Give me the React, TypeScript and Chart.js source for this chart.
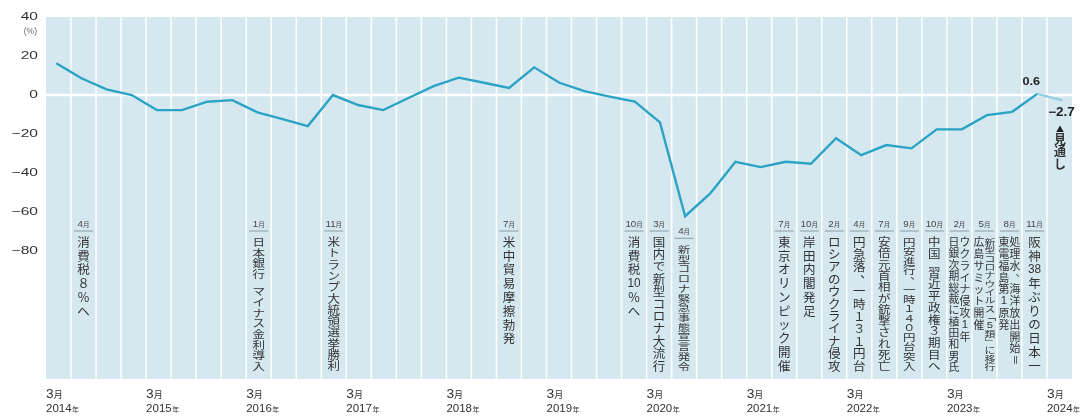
import React, { useEffect, useRef } from "react";
import { Chart, registerables } from "chart.js";

Chart.register(...registerables);

// ---- data ----
const values: number[] = [
  16.3, 8.6, 2.9, 0.0, -7.7, -7.7, -3.4, -2.6, -8.9, -12.3, -15.9, 0.0,
  -5.1, -7.7, -1.5, 4.6, 8.9, 6.3, 3.7, 14.2, 6.3, 2.0, -0.8, -3.4,
  -14.0, -62.1, -50.4, -34.2, -36.9, -34.2, -35.2, -22.1, -30.8, -25.6, -27.3, -17.6,
  -17.6, -10.3, -8.6, 0.6, -2.7,
];
const forecastIndex = 40; // last point is an outlook
const labelledIndexes = [39, 40];
const yearLabels = [
  "2014", "2015", "2016", "2017", "2018", "2019", "2020", "2021", "2022", "2023", "2024",
];
const tickMonth = "3";
const yTicks = [40, 20, 0, -20, -40, -60, -80];
const unitLabel = "(%)";
const outlookLabel = "見通し";

const eventIndex = [1, 8, 11, 18, 23, 24, 25, 29, 30, 31, 32, 33, 34, 35, 36, 37, 38, 39];
const eventMonth = [4, 1, 11, 7, 10, 3, 4, 7, 10, 2, 4, 7, 9, 10, 2, 5, 8, 11];
const eventText: string[][] = [
  ["消費税８％へ"],
  ["日本銀行 マイナス金利導入"],
  ["米トランプ大統領選挙勝利"],
  ["米中貿易摩擦勃発"],
  ["消費税10％へ"],
  ["国内で新型コロナ大流行"],
  ["新型コロナ緊急事態宣言発令"],
  ["東京オリンピック開催"],
  ["岸田内閣発足"],
  ["ロシアのウクライナ侵攻"],
  ["円急落、一時１３１円台"],
  ["安倍元首相が銃撃され死亡"],
  ["円安進行、一時１４０円台突入"],
  ["中国 習近平政権３期目へ"],
  ["ウクライナ侵攻1年", "日銀次期総裁に植田和男氏"],
  ["新型コロナウイルス「5類」に移行", "広島サミット開催"],
  ["処理水、海洋放出開始＝", "東電福島第1原発"],
  ["阪神38年ぶりの日本一"],
];

// ---- layout constants (grid units = quarters) ----
const GRID_CELLS = 41;
const POINT_OFFSET = 0.41;
const POINT_STEP = 1.0052;

const BG = "#d5e8f0";
const LINE = "#2aa3c5";
const LINE_LIGHT = "#93cde2";
const TEXT = "#333333";
const LATIN = '"Liberation Sans", Arial, sans-serif';
const CJK = '"Noto Sans CJK JP", "Noto Sans", sans-serif';

function scaledText(
  ctx: CanvasRenderingContext2D,
  text: string,
  x: number,
  y: number,
  font: string,
  hs: number,
  align: CanvasTextAlign
) {
  ctx.save();
  ctx.font = font;
  ctx.translate(x, y);
  ctx.scale(hs, 1);
  ctx.textAlign = align;
  ctx.fillText(text, 0, 0);
  ctx.restore();
}

function textW(ctx: CanvasRenderingContext2D, text: string, font: string, hs: number) {
  ctx.save();
  ctx.font = font;
  const w = ctx.measureText(text).width * hs;
  ctx.restore();
  return w;
}

function tokenize(s: string): string[] {
  const out: string[] = [];
  let i = 0;
  while (i < s.length) {
    if (/[0-9]/.test(s[i])) {
      let j = i;
      while (j < s.length && /[0-9]/.test(s[j])) j++;
      out.push(s.slice(i, j));
      i = j;
    } else {
      out.push(s[i]);
      i++;
    }
  }
  return out;
}

function drawVertical(
  ctx: CanvasRenderingContext2D,
  s: string,
  x: number,
  startY: number,
  endY: number,
  fs: number,
  maxStep: number,
  bold = false
) {
  const tokens = tokenize(s);
  const adv = (t: string) => (t === " " ? 0.6 : 1);
  let units = 0;
  for (let i = 0; i < tokens.length - 1; i++) units += adv(tokens[i]);
  const step = units > 0 ? Math.min(maxStep, (endY - startY) / units) : maxStep;
  const vs = Math.min(1, step / (fs * 1.02));
  const font = `${bold ? "bold " : ""}${fs}px ${CJK}`;
  ctx.save();
  ctx.fillStyle = TEXT;
  ctx.textBaseline = "middle";
  ctx.textAlign = "center";
  ctx.font = font;
  let y = startY;
  tokens.forEach((t) => {
    if (t === " ") {
      y += step * adv(t);
      return;
    }
    ctx.save();
    ctx.translate(x, y);
    ctx.scale(1, vs);
    if (/^[0-9]+$/.test(t)) {
      ctx.font = `${bold ? "bold " : ""}${fs * 1.05}px ${LATIN}`;
      const w = ctx.measureText(t).width;
      const hs = t.length > 1 ? Math.min(1, (fs * 1.05) / w) : 1;
      ctx.scale(hs, 1);
      ctx.fillText(t, 0, 0);
    } else if ("「」＝ー".includes(t)) {
      ctx.rotate(Math.PI / 2);
      ctx.fillText(t, 0, 0);
    } else if ("、。".includes(t)) {
      ctx.fillText(t, fs * 0.55, -fs * 0.5);
    } else {
      ctx.fillText(t, 0, 0);
    }
    ctx.restore();
    y += step;
  });
  ctx.restore();
}

const decorPlugin = {
  id: "decor",
  beforeDatasetsDraw(chart: any) {
    const { ctx, chartArea: a, scales } = chart;
    const xs = scales.x;
    const ys = scales.y;
    ctx.save();
    ctx.fillStyle = BG;
    ctx.fillRect(a.left, a.top, a.right - a.left, a.bottom - a.top);
    // vertical quarter grid
    ctx.strokeStyle = "rgba(255,255,255,0.9)";
    ctx.lineWidth = 1.6;
    for (let k = 1; k < GRID_CELLS; k++) {
      const px = xs.getPixelForValue(k);
      ctx.beginPath();
      ctx.moveTo(px, a.top);
      ctx.lineTo(px, a.bottom);
      ctx.stroke();
    }
    // zero line
    const zy = ys.getPixelForValue(0);
    ctx.strokeStyle = "#ffffff";
    ctx.lineWidth = 2.6;
    ctx.beginPath();
    ctx.moveTo(a.left, zy);
    ctx.lineTo(a.right, zy);
    ctx.stroke();
    ctx.restore();

    // events
    const meta = chart.getDatasetMeta(0);
    eventIndex.forEach((k, i) => {
      const cx = xs.getPixelForValue(k + 0.5);
      const pt = meta.data[k];
      const labelY = Math.max(223.5, pt ? pt.y + 14.5 : 0);
      // month label
      const num = String(eventMonth[i]);
      const nf = `8.5px ${LATIN}`;
      const mf = `6.5px ${CJK}`;
      const nw = textW(ctx, num, nf, 1.15);
      const mw = textW(ctx, "月", mf, 1);
      const left = cx - (nw + mw) / 2;
      ctx.save();
      ctx.fillStyle = "#444";
      ctx.textBaseline = "alphabetic";
      scaledText(ctx, num, left, labelY + 3.2, nf, 1.15, "left");
      ctx.font = mf;
      ctx.textAlign = "left";
      ctx.fillText("月", left + nw, labelY + 3.2);
      ctx.strokeStyle = "#8a9aa2";
      ctx.lineWidth = 1;
      ctx.beginPath();
      ctx.moveTo(cx - 9.5, labelY + 7.5);
      ctx.lineTo(cx + 9.5, labelY + 7.5);
      ctx.stroke();
      ctx.restore();
      const cols = eventText[i];
      const startY = labelY + 18.5;
      if (cols.length === 1) {
        drawVertical(ctx, cols[0], cx, startY, 366, 12.5, 13.8);
      } else {
        drawVertical(ctx, cols[0], cx + 5.5, startY, 367, 10.8, 11.8);
        drawVertical(ctx, cols[1], cx - 5.5, startY, 367, 10.8, 11.8);
      }
    });
  },
  afterDatasetsDraw(chart: any) {
    const { ctx, chartArea: a, scales } = chart;
    const xs = scales.x;
    const ys = scales.y;
    const meta = chart.getDatasetMeta(0);
    ctx.save();
    ctx.fillStyle = "#222";
    ctx.textBaseline = "middle";
    // value labels
    labelledIndexes.forEach((idx) => {
      const pt = meta.data[idx];
      const v = values[idx];
      const txt = v < 0 ? "−" + Math.abs(v).toFixed(1) : v.toFixed(1);
      if (idx === forecastIndex) {
        scaledText(ctx, txt, pt.x - 1, pt.y + 12, `bold 12px ${LATIN}`, 1.12, "center");
        // outlook marker
        ctx.font = `8px ${CJK}`;
        ctx.textAlign = "center";
        ctx.fillText("▲", pt.x - 2.5, pt.y + 29);
        drawVertical(ctx, outlookLabel, pt.x - 2.5, pt.y + 39, 500, 12, 12.6, true);
      } else {
        scaledText(ctx, txt, pt.x - 6, pt.y - 12, `bold 11.5px ${LATIN}`, 1.1, "center");
      }
    });
    // y axis labels
    ctx.fillStyle = TEXT;
    yTicks.forEach((t) => {
      const py = ys.getPixelForValue(t);
      const txt = t < 0 ? "−" + Math.abs(t) : String(t);
      scaledText(ctx, txt, a.left - 8, py, `11.5px ${LATIN}`, 1.35, "right");
    });
    ctx.fillStyle = "#666";
    scaledText(ctx, unitLabel, a.left - 9, ys.getPixelForValue(40) + 14.5, `8.5px ${LATIN}`, 1.0, "right");
    // x axis labels
    ctx.fillStyle = TEXT;
    ctx.textBaseline = "alphabetic";
    yearLabels.forEach((yr, j) => {
      const px = xs.getPixelForValue(j * 4);
      const f1 = `12px ${LATIN}`;
      const w1 = textW(ctx, tickMonth, f1, 1.15);
      scaledText(ctx, tickMonth, px, a.bottom + 19, f1, 1.15, "left");
      ctx.font = `9px ${CJK}`;
      ctx.textAlign = "left";
      ctx.fillText("月", px + w1, a.bottom + 19);
      const f2 = `10px ${LATIN}`;
      const w2 = textW(ctx, yr, f2, 1.15);
      scaledText(ctx, yr, px, a.bottom + 33, f2, 1.15, "left");
      ctx.font = `7px ${CJK}`;
      ctx.fillText("年", px + w2 + 0.5, a.bottom + 33);
    });
    ctx.restore();
  },
};

export default function App() {
  const ref = useRef<HTMLCanvasElement>(null);
  useEffect(() => {
    if (!ref.current) return;
    const points = values.map((v, i) => ({ x: POINT_OFFSET + i * POINT_STEP, y: v }));
    const chart = new Chart(ref.current, {
      type: "line",
      data: {
        datasets: [
          {
            data: points,
            borderColor: LINE,
            borderWidth: 2.4,
            pointRadius: 0,
            tension: 0,
            fill: false,
            segment: {
              borderColor: (c: any) => (c.p1DataIndex >= forecastIndex ? LINE_LIGHT : LINE),
            },
          },
        ],
      },
      options: {
        responsive: false,
        animation: false,
        layout: { padding: { left: 46, top: 17, right: 8, bottom: 38 } },
        plugins: { legend: { display: false }, tooltip: { enabled: false } },
        scales: {
          x: { type: "linear", min: 0, max: GRID_CELLS, display: false },
          y: { type: "linear", min: -145.5, max: 40, display: false },
        },
      },
      plugins: [decorPlugin],
    });
    return () => chart.destroy();
  }, []);
  return (
    <div style={{ position: "fixed", left: 0, top: 0, width: 1080, height: 417, background: "#fff" }}>
      <canvas ref={ref} width={1080} height={417} style={{ display: "block", width: 1080, height: 417 }} />
    </div>
  );
}
